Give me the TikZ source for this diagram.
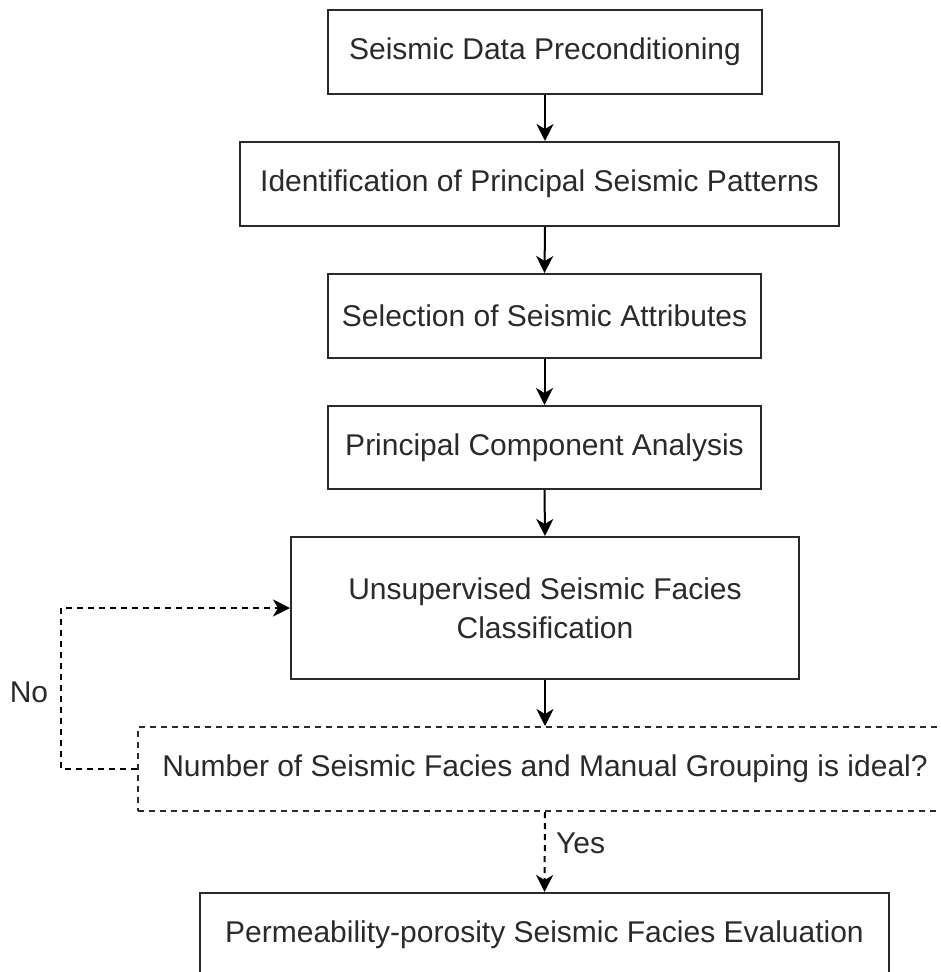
\documentclass[tikz,border=0pt]{standalone}
\usepackage{fontspec}
\setmainfont{Liberation Sans}
\usetikzlibrary{arrows.meta}
\definecolor{ink}{HTML}{2A2A2A}
\begin{document}
\begin{tikzpicture}[x=1pt,y=-1pt,
  every node/.style={font=\fontsize{30}{39}\selectfont, text=ink},
  procbox/.style={draw=ink, line width=2pt, rectangle, inner sep=0pt, align=center},
  decbox/.style={draw=ink, line width=2pt, rectangle, inner sep=0pt, align=center, dash pattern=on 6pt off 5pt},
  flow/.style={draw=black, line width=2pt, -{Stealth[length=17pt,width=17pt,inset=5pt]}},
  dflow/.style={flow, dash pattern=on 6pt off 5pt},
  lbl/.style={inner sep=0pt}]
\useasboundingbox (0,0) rectangle (941,972);
\clip (0,0) rectangle (941,972);
\node[procbox, minimum width=434pt, minimum height=84pt] (b1) at (545,52) {Seismic Data Preconditioning};
\node[procbox, minimum width=599pt, minimum height=84pt] (b2) at (539.5,184) {Identification of Principal Seismic Patterns};
\node[procbox, minimum width=433pt, minimum height=84pt] (b3) at (544.5,316) {Selection of Seismic Attributes};
\node[procbox, minimum width=433pt, minimum height=83pt] (b4) at (544.5,447.5) {Principal Component Analysis};
\node[procbox, minimum width=508pt, minimum height=142pt] (b5) at (545,608) {Unsupervised Seismic Facies\\Classification};
\node[decbox, minimum width=814pt, minimum height=84pt] (d) at (545,769) {Number of Seismic Facies and Manual Grouping is ideal?};
\node[procbox, minimum width=689pt, minimum height=84pt] (b6) at (544.5,935) {Permeability-porosity Seismic Facies Evaluation};
\node[lbl] (no) at (29,692) {No};
\node[lbl, anchor=west] (yes) at (556,843) {Yes};
\coordinate (lp1) at (61,769);
\coordinate (lp2) at (61,608);
\draw[flow] (b1.south) -- (b1.south |- b2.north);
\draw[flow] (b1.south |- b2.south) -- (b3.north);
\draw[flow] (b3.south) -- (b4.north);
\draw[flow] (b4.south) -- (b5.north);
\draw[flow] (b5.south) -- (d.north);
\draw[dflow] (d.south) -- (b6.north);
\draw[dflow] (d.west) -- (lp1) -- (lp2) -- (b5.west);
\end{tikzpicture}
\end{document}
